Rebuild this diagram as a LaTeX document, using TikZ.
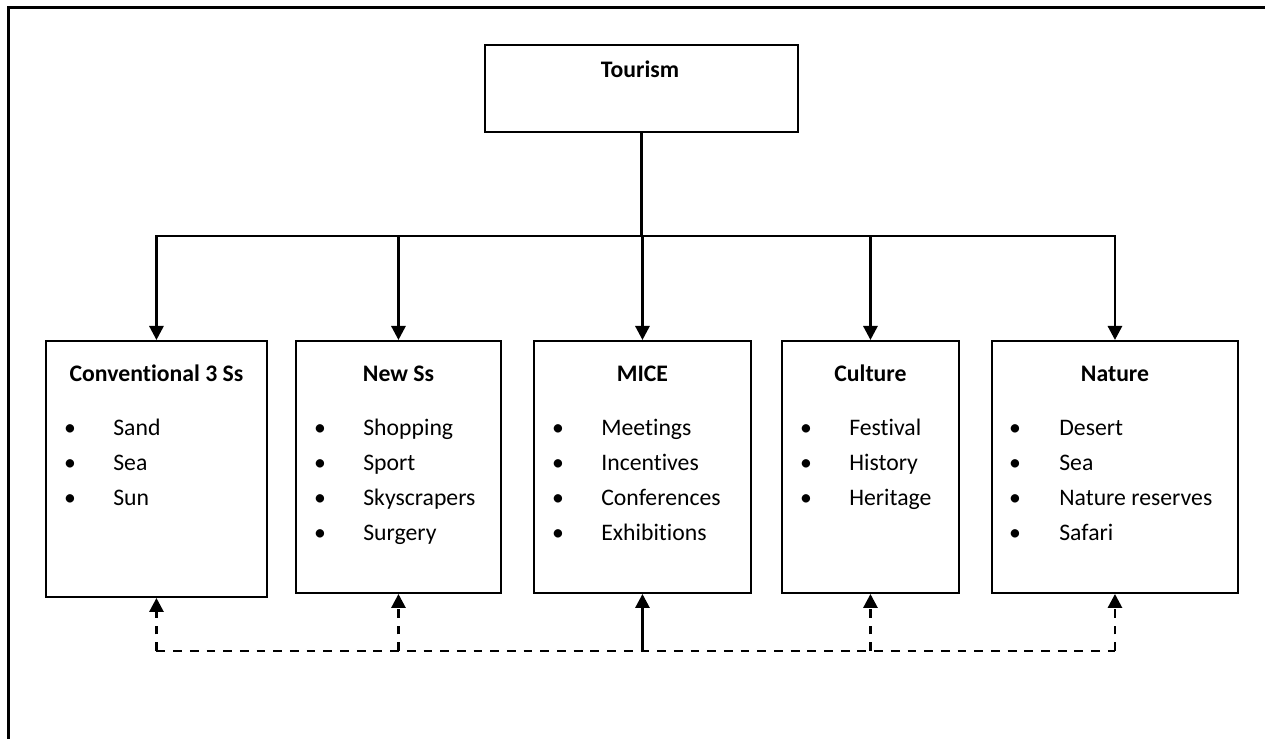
\documentclass[tikz,border=0pt]{standalone}
\usepackage{fontspec}
\setmainfont{Carlito}[Ligatures=NoCommon]
\usetikzlibrary{arrows.meta}
\begin{document}
\begin{tikzpicture}[x=0.02cm,y=-0.02cm,
  every node/.style={font=\fontsize{13.5}{16}\selectfont, inner sep=0pt},
  box/.style={draw, line width=1.1pt, rectangle, anchor=north west},
  title/.style={font=\fontsize{13.5}{16}\selectfont\bfseries, anchor=base},
  item/.style={anchor=base west},
  bul/.style={anchor=base},
  conn/.style={line width=1.6pt},
  arr/.style={conn, -{Triangle[length=8pt,width=8pt]}},
  darr/.style={arr, dash pattern=on 5pt off 4.5pt},
  dline/.style={conn, dash pattern=on 5pt off 4.5pt}]
\useasboundingbox (0,0) rectangle (1265,738);
% outer frame (only top and left visible)
\draw[line width=1.4pt] (8.5,745) -- (8.5,7.5) -- (1270,7.5);

% top box
\node[box, minimum width=313*0.02cm, minimum height=87*0.02cm] (tour) at (484,44) {};
\node[title] (tourt) at (640,77) {Tourism};

% category boxes
\node[box, minimum width=221*0.02cm, minimum height=256*0.02cm] (b1) at (45,340) {};
\node[box, minimum width=205*0.02cm, minimum height=252*0.02cm] (b2) at (295,340) {};
\node[box, minimum width=217*0.02cm, minimum height=252*0.02cm] (b3) at (533,340) {};
\node[box, minimum width=177*0.02cm, minimum height=252*0.02cm] (b4) at (781,340) {};
\node[box, minimum width=246*0.02cm, minimum height=252*0.02cm] (b5) at (991,340) {};

% titles
\node[title] (t1) at (b1.north |- 0,381) {Conventional 3 Ss};
\node[title] (t2) at (b2.north |- 0,381) {New Ss};
\node[title] (t3) at (b3.north |- 0,381) {MICE};
\node[title] (t4) at (b4.north |- 0,381) {Culture};
\node[title] (t5) at (b5.north |- 0,381) {Nature};

% bullet items
\foreach \txt [count=\i] in {Sand,Sea,Sun}{
  \node[bul] (b1d\i) at (70,400+35*\i) {\textbullet};
  \node[item] (b1i\i) at (113,400+35*\i) {\txt};}
\foreach \txt [count=\i] in {Shopping,Sport,Skyscrapers,Surgery}{
  \node[bul] (b2d\i) at (320,400+35*\i) {\textbullet};
  \node[item] (b2i\i) at (363,400+35*\i) {\txt};}
\foreach \txt [count=\i] in {Meetings,Incentives,Conferences,Exhibitions}{
  \node[bul] (b3d\i) at (558,400+35*\i) {\textbullet};
  \node[item] (b3i\i) at (601,400+35*\i) {\txt};}
\foreach \txt [count=\i] in {Festival,History,Heritage}{
  \node[bul] (b4d\i) at (806,400+35*\i) {\textbullet};
  \node[item] (b4i\i) at (849,400+35*\i) {\txt};}
\foreach \txt [count=\i] in {Desert,Sea,Nature reserves,Safari}{
  \node[bul] (b5d\i) at (1015,400+35*\i) {\textbullet};
  \node[item] (b5i\i) at (1059,400+35*\i) {\txt};}

% top connectors
\coordinate (bus) at (tour.south |- 0,236);
\draw[conn] (tour.south) -- (bus);
\foreach \b in {b1,b2,b3,b4,b5}{
  \draw[arr] (bus) -| (\b.north);}

% bottom connectors
\coordinate (dl) at (b1.south |- 0,651);
\coordinate (dr) at (b5.south |- 0,651);
\draw[dline] (dl) -- (dr);
\draw[darr] (dl) -- (b1.south);
\draw[darr] (b2.south |- dl) -- (b2.south);
\draw[arr] (b3.south |- dl) -- (b3.south);
\draw[darr] (b4.south |- dl) -- (b4.south);
\draw[darr] (dr) -- (b5.south);
\end{tikzpicture}
\end{document}
